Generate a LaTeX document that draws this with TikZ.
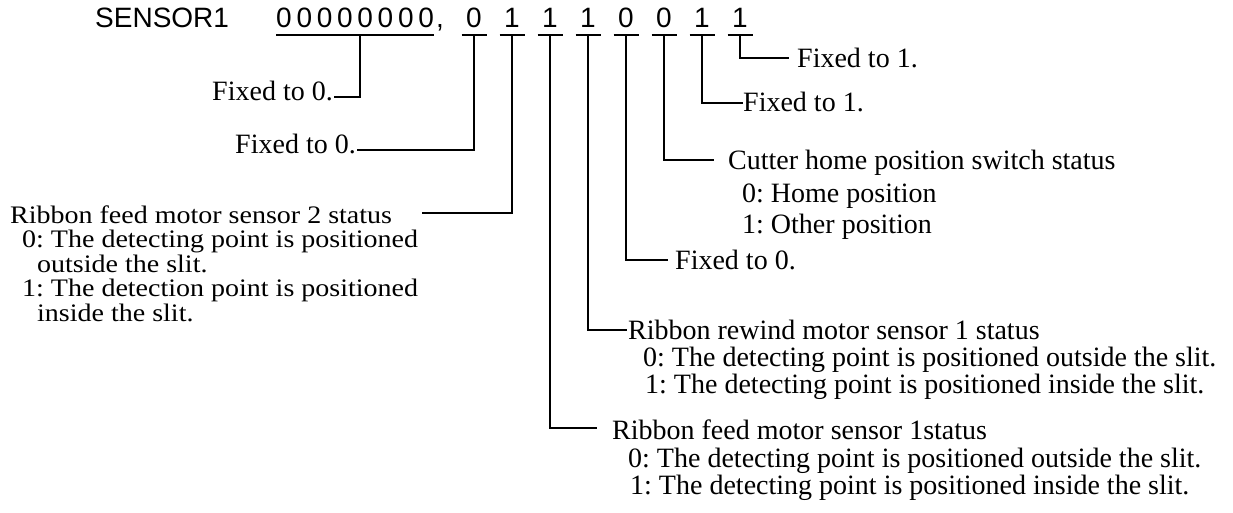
\documentclass[tikz,border=0pt]{standalone}
\usepackage{fontspec}
\usepackage{graphicx}
\setmainfont{Liberation Serif}
\newfontfamily\arialfont{Liberation Sans}
\frenchspacing
\newcommand{\squash}[1]{\scalebox{1}[0.9]{#1}}
\begin{document}
\begin{tikzpicture}[x=1pt,y=-1pt,
  lbl/.style={inner sep=0pt,font=\fontsize{28}{30}\selectfont},
  sf/.style={inner sep=0pt,font=\arialfont\fontsize{28}{30}\selectfont},
  conn/.style={line width=1.7pt,line cap=rect},
  uline/.style={line width=2pt}]
\useasboundingbox (0,0) rectangle (1233,513);

% header
\node[sf,anchor=base west] (sensor) at (95,28) {SENSOR1};
\foreach \i in {0,...,7}{
  \node[sf,anchor=base] (z\i) at (284+20.3*\i,28) {0};
}
\node[sf,anchor=base west] (comma) at (436,28) {,};
\coordinate (ug) at (360,35);
\draw[uline] (z0.west |- ug) -- (z7.east |- ug);

% bits b7..b0
\foreach \n/\x/\v in {7/474/0,6/512/1,5/550/1,4/588/1,3/626/0,2/664/0,1/702/1,0/740/1}{
  \node[sf,anchor=base] (d\n) at (\x,28) {\v};
  \coordinate (u\n) at (\x,35);
  \draw[uline] ([xshift=-12.5pt]u\n) -- ([xshift=12.5pt]u\n);
}

% left labels
\node[lbl,anchor=base east] (tg) at (333,101) {Fixed to 0.};
\coordinate (eg) at (335,97);
\draw[conn] (ug) |- (eg);

\node[lbl,anchor=base east] (t7) at (356,154) {Fixed to 0.};
\coordinate (e7) at (358,150);
\draw[conn] (u7) |- (e7);

\node[lbl,anchor=base west] (t6) at (10,223) {\squash{Ribbon feed motor sensor 2 status}};
\node[lbl,anchor=base west] (t6a) at (22,247.5) {\squash{0: The detecting point is positioned}};
\node[lbl,anchor=base west] (t6b) at (37,272) {\squash{outside the slit.}};
\node[lbl,anchor=base west] (t6c) at (22,296.5) {\squash{1: The detection point is positioned}};
\node[lbl,anchor=base west] (t6d) at (37,321) {\squash{inside the slit.}};
\coordinate (e6) at (423,213);
\draw[conn] (u6) |- (e6);

% right labels
\node[lbl,anchor=base west] (t0) at (797,68) {Fixed to 1.};
\coordinate (e0) at (788,58);
\draw[conn] (u0) |- (e0);

\node[lbl,anchor=base west] (t1) at (743,112) {Fixed to 1.};
\coordinate (e1) at (742,103);
\draw[conn] (u1) |- (e1);

\node[lbl,anchor=base west] (t2) at (728,170) {Cutter home position switch status};
\node[lbl,anchor=base west] (t2a) at (742,202) {0: Home position};
\node[lbl,anchor=base west] (t2b) at (742,233) {1: Other position};
\coordinate (e2) at (713,160);
\draw[conn] (u2) |- (e2);

\node[lbl,anchor=base west] (t3) at (675,269) {Fixed to 0.};
\coordinate (e3) at (667,260);
\draw[conn] (u3) |- (e3);

\node[lbl,anchor=base west] (t4) at (628,339) {Ribbon rewind motor sensor 1 status};
\node[lbl,anchor=base west] (t4a) at (643,366) {0: The detecting point is positioned outside the slit.};
\node[lbl,anchor=base west] (t4b) at (645,393) {1: The detecting point is positioned inside the slit.};
\coordinate (e4) at (626,330);
\draw[conn] (u4) |- (e4);

\node[lbl,anchor=base west] (t5) at (612,439) {Ribbon feed motor sensor 1status};
\node[lbl,anchor=base west] (t5a) at (628,467) {0: The detecting point is positioned outside the slit.};
\node[lbl,anchor=base west] (t5b) at (630,494) {1: The detecting point is positioned inside the slit.};
\coordinate (e5) at (596,428);
\draw[conn] (u5) |- (e5);
\end{tikzpicture}
\end{document}
